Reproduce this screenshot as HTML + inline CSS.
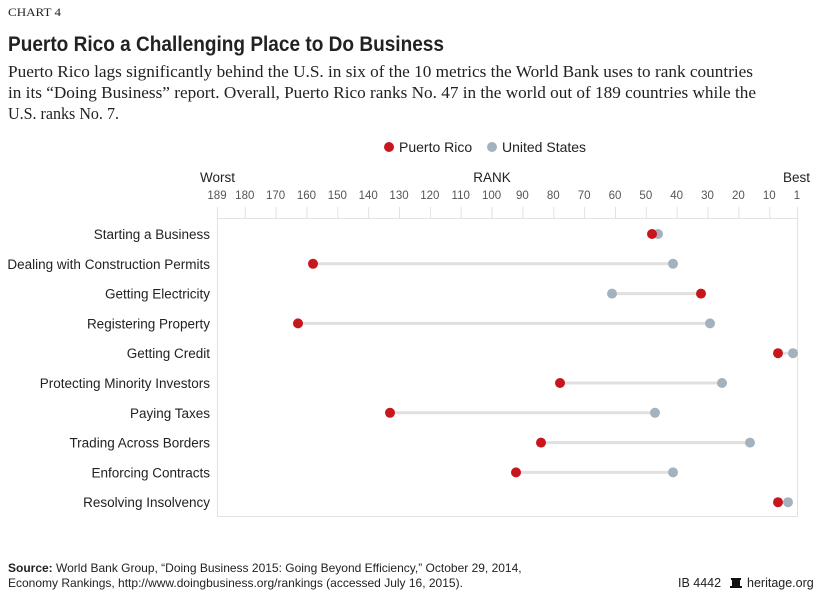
<!DOCTYPE html>
<html><head><meta charset="utf-8"><style>body{margin:0;background:#fff}svg{display:block}</style></head><body>
<svg width="825" height="594" xmlns="http://www.w3.org/2000/svg">
<g font-family="Liberation Serif, serif" fill="#222">
<text x="8" y="16" font-size="11.5" textLength="53" lengthAdjust="spacingAndGlyphs">CHART 4</text>
<text x="8" y="77" font-size="17" textLength="745" lengthAdjust="spacingAndGlyphs">Puerto Rico lags significantly behind the U.S. in six of the 10 metrics the World Bank uses to rank countries</text>
<text x="8" y="98" font-size="17" textLength="748" lengthAdjust="spacingAndGlyphs">in its “Doing Business” report. Overall, Puerto Rico ranks No. 47 in the world out of 189 countries while the</text>
<text x="8" y="119" font-size="17" textLength="111" lengthAdjust="spacingAndGlyphs">U.S. ranks No. 7.</text>
</g>
<g font-family="Liberation Sans, sans-serif" fill="#222">
<text x="8" y="51" font-size="21.5" font-weight="bold" textLength="436" lengthAdjust="spacingAndGlyphs">Puerto Rico a Challenging Place to Do Business</text>
<circle cx="389" cy="147" r="5" fill="#c8161d"/><text x="399" y="152" font-size="14">Puerto Rico</text>
<circle cx="492" cy="147" r="5" fill="#a4b2bd"/><text x="502" y="152" font-size="14">United States</text>
<text x="200" y="182" font-size="13.5">Worst</text>
<text x="492" y="182" font-size="13.5" text-anchor="middle">RANK</text>
<text x="810" y="182" font-size="13.5" text-anchor="end">Best</text>
<g font-size="11.5" fill="#555" text-anchor="middle" id="tl"></g>
<g stroke="#e2e2e2" stroke-width="1" id="tk"></g>
<rect x="217.5" y="218.5" width="580" height="298" fill="none" stroke="#e2e2e2"/>
<g font-size="13.5" text-anchor="end" id="lab"></g>
<g id="pts"></g>
<text x="8" y="572" font-size="12"><tspan font-weight="bold">Source:</tspan> World Bank Group, “Doing Business 2015: Going Beyond Efficiency,” October 29, 2014,</text>
<text x="8" y="587" font-size="12">Economy Rankings, http://www.doingbusiness.org/rankings (accessed July 16, 2015).</text>
<text x="678" y="587" font-size="12.5">IB 4442</text>
<path d="M731 578 h10 v2 h-1 v6 h2 v2 h-12 v-2 h2 v-6 h-1z" fill="#111"/>
<text x="747" y="587" font-size="12.5">heritage.org</text>
</g>
<script>
const ns="http://www.w3.org/2000/svg";
const X=r=>797-(r-1)*580/188;
const ticks=[189,180,170,160,150,140,130,120,110,100,90,80,70,60,50,40,30,20,10,1];
const tl=document.getElementById('tl'),tk=document.getElementById('tk');
ticks.forEach(t=>{let e=document.createElementNS(ns,'text');e.setAttribute('x',X(t));e.setAttribute('y',199);e.textContent=t;tl.appendChild(e);
let l=document.createElementNS(ns,'line');l.setAttribute('x1',X(t)+.5);l.setAttribute('x2',X(t)+.5);l.setAttribute('y1',207);l.setAttribute('y2',218);tk.appendChild(l);});
const rows=[["Starting a Business",652,658],["Dealing with Construction Permits",313,673],["Getting Electricity",701,612],["Registering Property",298,710],["Getting Credit",778,793],["Protecting Minority Investors",560,722],["Paying Taxes",390,655],["Trading Across Borders",541,750],["Enforcing Contracts",516,673],["Resolving Insolvency",778,788]];
const lab=document.getElementById('lab'),pts=document.getElementById('pts');
rows.forEach((r,i)=>{const y=234+i*29.8;
let t=document.createElementNS(ns,'text');t.setAttribute('x',210);t.setAttribute('y',y+5);t.textContent=r[0];lab.appendChild(t);
let l=document.createElementNS(ns,'line');l.setAttribute('x1',r[1]);l.setAttribute('x2',r[2]);l.setAttribute('y1',y);l.setAttribute('y2',y);l.setAttribute('stroke','#e0e0e0');l.setAttribute('stroke-width',3);pts.appendChild(l);
let c2=document.createElementNS(ns,'circle');c2.setAttribute('cx',r[2]);c2.setAttribute('cy',y);c2.setAttribute('r',5);c2.setAttribute('fill','#a4b2bd');pts.appendChild(c2);
let c1=document.createElementNS(ns,'circle');c1.setAttribute('cx',r[1]);c1.setAttribute('cy',y);c1.setAttribute('r',5);c1.setAttribute('fill','#c8161d');pts.appendChild(c1);});
</script>
</svg>
</body></html>
